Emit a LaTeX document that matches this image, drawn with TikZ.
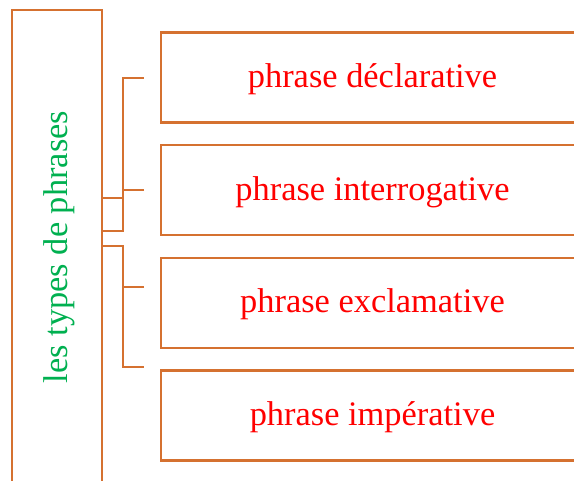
\documentclass[tikz,border=0pt]{standalone}
\usepackage{fontspec}
\setmainfont{Liberation Serif}
\definecolor{orng}{RGB}{213,113,48}
\definecolor{grn}{RGB}{0,176,80}
\definecolor{rd}{RGB}{255,0,0}
\begin{document}
\begin{tikzpicture}[x=1pt,y=1pt]
\tikzset{
  box/.style={draw=orng, line width=2.2pt, inner sep=0pt, outer sep=0pt},
  conn/.style={draw=orng, line width=2.2pt},
  lbl/.style={font=\fontsize{34.4}{40}\selectfont, inner sep=0pt},
  boxlbl/.style={box, lbl, text=rd, text height=24pt, text depth=4.4pt, minimum width=423pt, minimum height=90pt, anchor=north west}
}
\useasboundingbox (0,0) rectangle (574,-481);
\node[box, minimum width=90pt, minimum height=485pt, anchor=north west] (L) at (12,-9.7) {};
\node[lbl, rotate=90, text=grn] (Lt) at (59.5,-247) {les types de phrases};
\node[boxlbl] (b1) at (161,-32.5) {phrase déclarative};
\node[boxlbl] (b2) at (161,-145.3) {phrase interrogative};
\node[boxlbl] (b3) at (161,-258) {phrase exclamative};
\node[boxlbl] (b4) at (161,-370.5) {phrase impérative};
\coordinate (t1) at (144,-77.7);
\coordinate (t2) at (144,-190);
\coordinate (t3) at (144,-287);
\coordinate (t4) at (144,-367.3);
\draw[conn] (L.east |- 0,-198) -- (123,-198);
\draw[conn] (L.east |- 0,-230.7) -- (123,-230.7) |- (t1);
\draw[conn] (t2) -- (123,-190);
\draw[conn] (L.east |- 0,-246) -- (123,-246) |- (t4);
\draw[conn] (t3) -- (123,-287);
\end{tikzpicture}
\end{document}
